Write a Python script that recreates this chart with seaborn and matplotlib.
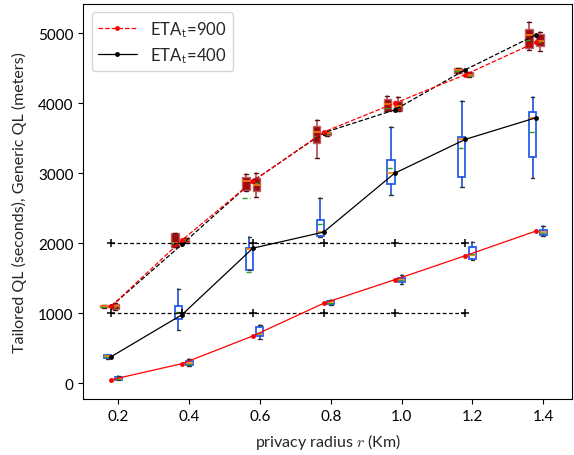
import matplotlib
matplotlib.use("Agg")
import matplotlib.pyplot as plt
import seaborn as sns
import numpy as np

# ---------------- data ----------------
radius = [0.2, 0.4, 0.6, 0.8, 1.0, 1.2, 1.4]

eta900_dashed = [1100, 2045, 2885, 3590, 4000, 4410, 4875]   # red dashed (legend ETA_t=900)
black_dashed = [1100, 1985, 2890, 3580, 3905, 4480, 4980]    # black dashed
eta400_solid = [380, 980, 1930, 2160, 3000, 3485, 3795]      # black solid (legend ETA_t=400)
red_solid = [50, 280, 676, 1143, 1478, 1823, 2176]           # red solid

ref_radius = [0.2, 0.4, 0.6, 0.8, 1.0, 1.2]
ref_low = [1000, 1000, 1000, 1000, 1000, 1000]
ref_high = [2000, 2000, 2000, 2000, 2000, 2000]

# lower blue boxes
low_q1 = [50, 255, 670, 1133, 1440, 1770, 2120]
low_med = [65, 285, 705, 1155, 1480, 1830, 2160]
low_q3 = [85, 320, 810, 1177, 1510, 1940, 2192]
low_lo = [40, 240, 637, 1125, 1420, 1755, 2110]
low_hi = [110, 340, 830, 1185, 1550, 2025, 2250]
low_mean = [60, 270, 720, 1140, 1470, 1850, 2140]

# middle blue boxes
mid_q1 = [360, 915, 1620, 2110, 2850, 2945, 3230]
mid_med = [385, 1000, 1925, 2157, 3000, 3490, 3790]
mid_q3 = [400, 1100, 1935, 2337, 3186, 3514, 3876]
mid_lo = [350, 757, 1615, 2094, 2686, 2809, 2933]
mid_hi = [410, 1340, 2086, 2647, 3666, 4037, 4094]
mid_mean = [380, 1025, 1585, 2276, 3076, 3357, 3586]

# dark red boxes (first of pair)
ra_q1 = [1085, 1945, 2755, 3430, 3894, 4433, 4786]
ra_med = [1100, 2010, 2894, 3586, 3990, 4470, 4980]
ra_q3 = [1115, 2140, 2940, 3680, 4060, 4500, 5061]
ra_lo = [1078, 1940, 2750, 3219, 3890, 4430, 4761]
ra_hi = [1120, 2150, 2990, 3761, 4109, 4505, 5157]
ra_mean = [1095, 2000, 2643, 3537, 3933, 4460, 4900]

# dark red boxes (second of pair)
rb_q1 = [1065, 2014, 2752, 3547, 3894, 4386, 4823]
rb_med = [1100, 2045, 2837, 3570, 3960, 4410, 4894]
rb_q3 = [1135, 2076, 2933, 3586, 4029, 4443, 4990]
rb_lo = [1050, 2005, 2657, 3540, 3885, 4380, 4743]
rb_hi = [1145, 2080, 3000, 3590, 4094, 4445, 5014]
rb_mean = [1090, 2040, 2860, 3560, 3930, 4390, 4880]

# ---------------- style ----------------
sns.set_theme(style="ticks")
plt.rcParams["font.family"] = ["Lato", "DejaVu Sans"]
plt.rcParams["mathtext.fontset"] = "cm"
plt.rcParams["xtick.direction"] = "out"
plt.rcParams["ytick.direction"] = "out"

fig = plt.figure(figsize=(5.74, 4.56), dpi=100)
ax = fig.add_axes([0.145, 0.123, 0.852, 0.866])


def stats(q1, med, q3, lo, hi, mean):
    return [dict(q1=a, med=b, q3=c, whislo=d, whishi=e, mean=f, fliers=[])
            for a, b, c, d, e, f in zip(q1, med, q3, lo, hi, mean)]


def draw_boxes(st, pos, width, face, edge, whisk, cap, lw):
    ax.bxp(st, positions=pos, widths=width, patch_artist=True,
           showmeans=True, meanline=True, showfliers=False, manage_ticks=False,
           boxprops=dict(facecolor=face, edgecolor=edge, linewidth=lw),
           whiskerprops=dict(color=whisk, linewidth=1.2),
           capprops=dict(color=cap, linewidth=1.0),
           medianprops=dict(color="#ff7f0e", linewidth=1.2),
           meanprops=dict(color="#2ca02c", linestyle="--", linewidth=1.0),
           zorder=2)


r = np.array(radius)
draw_boxes(stats(low_q1, low_med, low_q3, low_lo, low_hi, low_mean), r, 0.02,
           "white", "#2a5ee8", "#1f4fd8", "#333333", 1.3)
draw_boxes(stats(mid_q1, mid_med, mid_q3, mid_lo, mid_hi, mid_mean), r - 0.03, 0.02,
           "white", "#2a5ee8", "#1f4fd8", "#333333", 1.3)
draw_boxes(stats(ra_q1, ra_med, ra_q3, ra_lo, ra_hi, ra_mean), r - 0.04, 0.022,
           "#9e0a0a", "#c06068", "#b04a55", "#5a1010", 1.0)
draw_boxes(stats(rb_q1, rb_med, rb_q3, rb_lo, rb_hi, rb_mean), r - 0.01, 0.022,
           "#9e0a0a", "#c06068", "#b04a55", "#5a1010", 1.0)

xl = r - 0.02
xr = np.array(ref_radius) - 0.02
for yref in (ref_low, ref_high):
    sns.lineplot(x=xr, y=yref, ax=ax, color="black", linestyle=(0, (3, 2)), marker="+",
                 markersize=6, markeredgewidth=1.1, markeredgecolor="black",
                 linewidth=0.9, legend=False, zorder=3)
sns.lineplot(x=xl, y=black_dashed, ax=ax, color="black", linestyle="--", marker="o",
             markersize=3.5, markeredgewidth=0, linewidth=0.9, legend=False, zorder=4)
sns.lineplot(x=xl, y=eta900_dashed, ax=ax, color="red", linestyle="--", marker="o",
             markersize=3.5, markeredgewidth=0, linewidth=0.9,
             label="ETA$_\\mathsf{t}$=900", zorder=4)
sns.lineplot(x=xl, y=eta400_solid, ax=ax, color="black", linestyle="-", marker="o",
             markersize=3.5, markeredgewidth=0, linewidth=0.9,
             label="ETA$_\\mathsf{t}$=400", zorder=4)
sns.lineplot(x=xl, y=red_solid, ax=ax, color="red", linestyle="-", marker="o",
             markersize=3.5, markeredgewidth=0, linewidth=0.9, legend=False, zorder=4)

ax.set_xlim(0.101, 1.482)
ax.set_ylim(-224, 5419)
ax.set_xticks(radius)
ax.set_xticklabels([f"{v:.1f}" for v in radius])
ax.set_yticks([0, 1000, 2000, 3000, 4000, 5000])
ax.set_yticklabels(["0", "1000", "2000", "3000", "4000", "5000"])
ax.tick_params(labelsize=11, length=3.5, width=0.8, colors="black")
for s in ax.spines.values():
    s.set_color("black")
    s.set_linewidth(0.8)
    s.set_visible(True)

ax.set_xlabel("privacy radius $r$ (Km)", fontsize=11.5, labelpad=6)
ax.set_ylabel("Tailored QL (seconds), Generic QL (meters)", fontsize=11.5, labelpad=8)
ax.legend(loc="upper left", fontsize=12, frameon=True, handlelength=2.3,
          borderaxespad=0.5, labelspacing=0.35)

fig.savefig("out.png", dpi=100)
